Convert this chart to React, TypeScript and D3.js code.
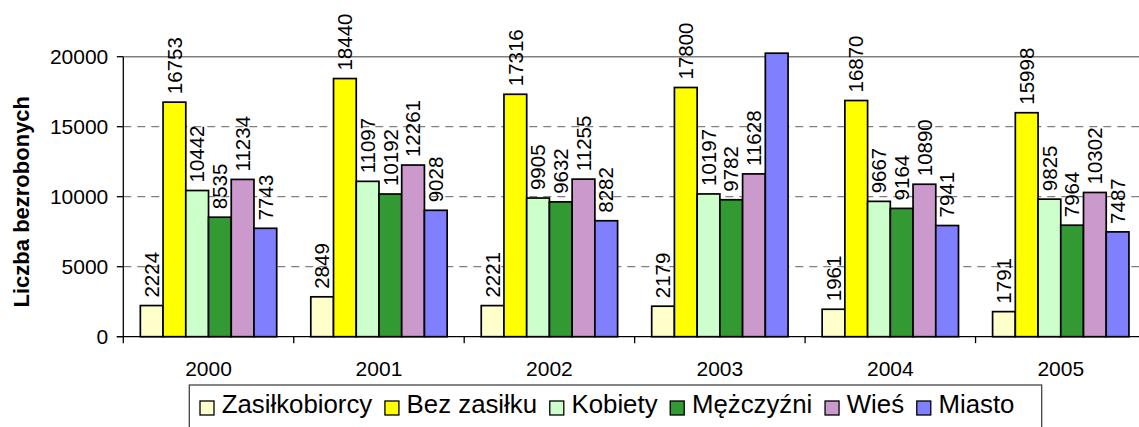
import React from "react";
import * as d3 from "d3";

const years = ["2000", "2001", "2002", "2003", "2004", "2005"];
const seriesNames = ["Zasiłkobiorcy", "Bez zasiłku", "Kobiety", "Mężczyźni", "Wieś", "Miasto"];
const seriesColors = ["#FFFFCC", "#FFFF00", "#CCFFCC", "#339933", "#CC99CC", "#8080FF"];
const zasilkobiorcy = [2224, 2849, 2221, 2179, 1961, 1791];
const bezZasilku = [16753, 18440, 17316, 17800, 16870, 15998];
const kobiety = [10442, 11097, 9905, 10197, 9667, 9825];
const mezczyzni = [8535, 10192, 9632, 9782, 9164, 7964];
const wies = [11234, 12261, 11255, 11628, 10890, 10302];
// 2003 "Miasto" runs off the top of the scale in the original (no label visible)
const miasto = [7743, 9028, 8282, 20250, 7941, 7487];
const yTicks = [0, 5000, 10000, 15000, 20000];

const allSeries = [zasilkobiorcy, bezZasilku, kobiety, mezczyzni, wies, miasto];

const FONT = "'Liberation Sans', Arial, sans-serif";

function measure(text: string, size: number, weight = "normal"): number {
  const c = document.createElement("canvas");
  const ctx = c.getContext("2d")!;
  ctx.font = `${weight} ${size}px ${FONT}`;
  return ctx.measureText(text).width;
}

export default function App() {
  const W = 1139, H = 427;
  const left = 123.3, right = 1146, top = 56.7, bottom = 336.7;
  const yMax = 20000;

  const x0 = d3.scaleBand<string>().domain(years).range([left, right]).paddingInner(0).paddingOuter(0);
  const x1 = d3.scaleBand<number>().domain(d3.range(seriesNames.length)).range([0, x0.bandwidth()]).paddingInner(0).paddingOuter(0.75);
  const y = d3.scaleLinear().domain([0, yMax]).range([bottom, top]);

  const legendSize = 25.8;
  let lx = 200;
  const legendItems = seriesNames.map((name, i) => {
    const sx = lx;
    const tx = sx + 21.7;
    const w = measure(name, legendSize);
    lx = tx + w + 12.7;
    return { name, color: seriesColors[i], sx, tx };
  });

  return (
    <svg width={W} height={H} style={{ display: "block", position: "absolute", left: 0, top: 0, background: "#fff" }} fontFamily={FONT}>
      <rect x={0} y={0} width={W} height={H} fill="#fff" />
      {/* gridlines */}
      {yTicks.filter(t => t > 0 && t < yMax).map(t => (
        <line key={t} x1={left} x2={right} y1={y(t)} y2={y(t)} stroke="#808080" strokeWidth={1.3} strokeDasharray="8,6" />
      ))}
      {/* plot area top border */}
      <line x1={left} x2={right} y1={y(yMax)} y2={y(yMax)} stroke="#808080" strokeWidth={1.5} />
      {/* bars */}
      {years.map((yr, gi) => (
        <g key={yr}>
          {allSeries.map((s, si) => {
            const v = s[gi];
            const bx = (x0(yr) as number) + (x1(si) as number);
            const by = y(v);
            return (
              <rect key={si} x={bx} y={by} width={x1.bandwidth()} height={bottom - by}
                fill={seriesColors[si]} stroke="#000" strokeWidth={1.7} />
            );
          })}
        </g>
      ))}
      {/* data labels */}
      {years.map((yr, gi) => (
        <g key={"l" + yr}>
          {allSeries.map((s, si) => {
            const v = s[gi];
            if (v > yMax) return null;
            const cx = (x0(yr) as number) + (x1(si) as number) + x1.bandwidth() / 2;
            const ty = y(v) - 8;
            return (
              <text key={si} transform={`translate(${cx},${ty}) rotate(-90)`} dy="0.35em"
                fontSize={20.5} fill="#000" textAnchor="start">{v}</text>
            );
          })}
        </g>
      ))}
      {/* axes */}
      <line x1={left} x2={left} y1={top} y2={bottom + 6.5} stroke="#000" strokeWidth={1.3} />
      <line x1={left - 6.5} x2={right} y1={bottom} y2={bottom} stroke="#000" strokeWidth={1.3} />
      {yTicks.map(t => (
        <g key={"yt" + t}>
          <line x1={left - 6.5} x2={left} y1={y(t)} y2={y(t)} stroke="#000" strokeWidth={1.3} />
          <text x={left - 15} y={y(t)} dy="0.35em" textAnchor="end" fontSize={21} fill="#000">{t}</text>
        </g>
      ))}
      {years.map((yr) => (
        <line key={"xt" + yr} x1={(x0(yr) as number) + x0.bandwidth()} x2={(x0(yr) as number) + x0.bandwidth()}
          y1={bottom} y2={bottom + 6.5} stroke="#000" strokeWidth={1.3} />
      ))}
      {years.map((yr) => (
        <text key={"xl" + yr} x={(x0(yr) as number) + x0.bandwidth() / 2} y={375.5} textAnchor="middle" fontSize={21} fill="#000">{yr}</text>
      ))}
      {/* y title */}
      <text transform={`translate(29,201.7) rotate(-90)`} textAnchor="middle" fontSize={22} fontWeight="bold" fill="#000">Liczba bezrobonych</text>
      {/* legend */}
      <rect x={189.3} y={385} width={1041.7 - 189.3} height={60} fill="#fff" stroke="#444" strokeWidth={1.3} />
      {legendItems.map(it => (
        <g key={it.name}>
          <rect x={it.sx} y={401} width={14} height={14} fill={it.color} stroke="#000" strokeWidth={1.3} />
          <text x={it.tx} y={413.3} fontSize={legendSize} fill="#000">{it.name}</text>
        </g>
      ))}
    </svg>
  );
}
